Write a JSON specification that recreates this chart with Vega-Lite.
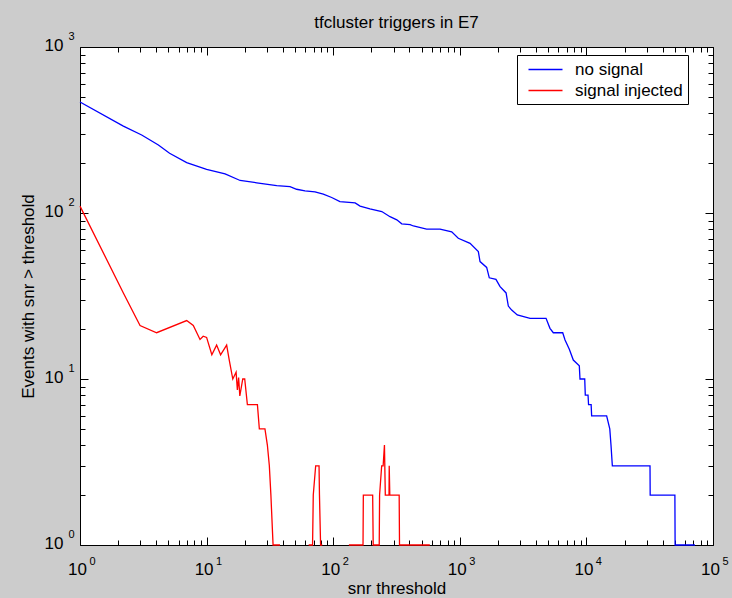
{
  "$schema": "https://vega.github.io/schema/vega-lite/v6.json",
  "width": 633,
  "height": 498,
  "autosize": {"type": "none"},
  "padding": {"left": 80, "top": 47, "right": 19, "bottom": 53},
  "background": "#cccccc",
  "title": {"text": "tfcluster triggers in E7", "font": "Liberation Sans", "fontSize": 17, "fontWeight": "normal", "color": "black", "offset": -2, "anchor": "middle"},
  "config": {
    "view": {"stroke": "black", "strokeWidth": 1, "fill": "white"},
    "axis": {"zindex": 1, "domain": false, "grid": false, "tickColor": "black", "tickWidth": 1, "labelColor": "black", "titleColor": "black", "labelFont": "Liberation Sans", "titleFont": "Liberation Sans", "labelFlush": false, "labelOverlap": false, "titleFontWeight": "normal"}
  },
  "data": {"values": [
    {"series": "no signal", "seg": "b", "snr": 1, "events": 466},
    {"series": "no signal", "seg": "b", "snr": 2.2, "events": 334},
    {"series": "no signal", "seg": "b", "snr": 3.07, "events": 295},
    {"series": "no signal", "seg": "b", "snr": 4.16, "events": 257},
    {"series": "no signal", "seg": "b", "snr": 5.1, "events": 229},
    {"series": "no signal", "seg": "b", "snr": 6.96, "events": 201},
    {"series": "no signal", "seg": "b", "snr": 10, "events": 183},
    {"series": "no signal", "seg": "b", "snr": 14, "events": 172},
    {"series": "no signal", "seg": "b", "snr": 18.4, "events": 157},
    {"series": "no signal", "seg": "b", "snr": 24.9, "events": 152},
    {"series": "no signal", "seg": "b", "snr": 35.8, "events": 146},
    {"series": "no signal", "seg": "b", "snr": 45.6, "events": 144},
    {"series": "no signal", "seg": "b", "snr": 51.4, "events": 139},
    {"series": "no signal", "seg": "b", "snr": 59.9, "events": 136},
    {"series": "no signal", "seg": "b", "snr": 71.8, "events": 134},
    {"series": "no signal", "seg": "b", "snr": 83.5, "events": 130},
    {"series": "no signal", "seg": "b", "snr": 97.3, "events": 124},
    {"series": "no signal", "seg": "b", "snr": 113, "events": 117},
    {"series": "no signal", "seg": "b", "snr": 149, "events": 115},
    {"series": "no signal", "seg": "b", "snr": 163, "events": 110},
    {"series": "no signal", "seg": "b", "snr": 195, "events": 106},
    {"series": "no signal", "seg": "b", "snr": 242, "events": 102},
    {"series": "no signal", "seg": "b", "snr": 281, "events": 95},
    {"series": "no signal", "seg": "b", "snr": 318, "events": 91},
    {"series": "no signal", "seg": "b", "snr": 348, "events": 86},
    {"series": "no signal", "seg": "b", "snr": 405, "events": 85},
    {"series": "no signal", "seg": "b", "snr": 430, "events": 83.5},
    {"series": "no signal", "seg": "b", "snr": 547, "events": 80},
    {"series": "no signal", "seg": "b", "snr": 698, "events": 80},
    {"series": "no signal", "seg": "b", "snr": 863, "events": 77},
    {"series": "no signal", "seg": "b", "snr": 973, "events": 70.4},
    {"series": "no signal", "seg": "b", "snr": 1205, "events": 65.6},
    {"series": "no signal", "seg": "b", "snr": 1401, "events": 58.5},
    {"series": "no signal", "seg": "b", "snr": 1445, "events": 51},
    {"series": "no signal", "seg": "b", "snr": 1630, "events": 47},
    {"series": "no signal", "seg": "b", "snr": 1710, "events": 40.7},
    {"series": "no signal", "seg": "b", "snr": 1930, "events": 39.8},
    {"series": "no signal", "seg": "b", "snr": 2080, "events": 36},
    {"series": "no signal", "seg": "b", "snr": 2320, "events": 33},
    {"series": "no signal", "seg": "b", "snr": 2417, "events": 27.5},
    {"series": "no signal", "seg": "b", "snr": 2570, "events": 26},
    {"series": "no signal", "seg": "b", "snr": 2845, "events": 24.3},
    {"series": "no signal", "seg": "b", "snr": 3590, "events": 23.2},
    {"series": "no signal", "seg": "b", "snr": 4800, "events": 23.2},
    {"series": "no signal", "seg": "b", "snr": 5155, "events": 20.2},
    {"series": "no signal", "seg": "b", "snr": 5480, "events": 19},
    {"series": "no signal", "seg": "b", "snr": 6500, "events": 19},
    {"series": "no signal", "seg": "b", "snr": 6780, "events": 17.2},
    {"series": "no signal", "seg": "b", "snr": 7330, "events": 15.1},
    {"series": "no signal", "seg": "b", "snr": 7880, "events": 13},
    {"series": "no signal", "seg": "b", "snr": 8790, "events": 12},
    {"series": "no signal", "seg": "b", "snr": 8900, "events": 10},
    {"series": "no signal", "seg": "b", "snr": 9700, "events": 10},
    {"series": "no signal", "seg": "b", "snr": 9800, "events": 8},
    {"series": "no signal", "seg": "b", "snr": 10300, "events": 8},
    {"series": "no signal", "seg": "b", "snr": 10400, "events": 7},
    {"series": "no signal", "seg": "b", "snr": 10900, "events": 7},
    {"series": "no signal", "seg": "b", "snr": 11000, "events": 6},
    {"series": "no signal", "seg": "b", "snr": 14450, "events": 6},
    {"series": "no signal", "seg": "b", "snr": 15300, "events": 5},
    {"series": "no signal", "seg": "b", "snr": 15640, "events": 4},
    {"series": "no signal", "seg": "b", "snr": 16030, "events": 3},
    {"series": "no signal", "seg": "b", "snr": 31800, "events": 3},
    {"series": "no signal", "seg": "b", "snr": 31900, "events": 2},
    {"series": "no signal", "seg": "b", "snr": 50000, "events": 2},
    {"series": "no signal", "seg": "b", "snr": 50200, "events": 1},
    {"series": "no signal", "seg": "b", "snr": 72000, "events": 1},
    {"series": "signal injected", "seg": "r1", "snr": 1, "events": 110},
    {"series": "signal injected", "seg": "r1", "snr": 2.2, "events": 33},
    {"series": "signal injected", "seg": "r1", "snr": 2.98, "events": 21},
    {"series": "signal injected", "seg": "r1", "snr": 4.03, "events": 19},
    {"series": "signal injected", "seg": "r1", "snr": 6.96, "events": 22.5},
    {"series": "signal injected", "seg": "r1", "snr": 7.85, "events": 21},
    {"series": "signal injected", "seg": "r1", "snr": 8.87, "events": 17.3},
    {"series": "signal injected", "seg": "r1", "snr": 9.4, "events": 18.1},
    {"series": "signal injected", "seg": "r1", "snr": 10, "events": 17.8},
    {"series": "signal injected", "seg": "r1", "snr": 11, "events": 14},
    {"series": "signal injected", "seg": "r1", "snr": 12, "events": 16},
    {"series": "signal injected", "seg": "r1", "snr": 12.9, "events": 14},
    {"series": "signal injected", "seg": "r1", "snr": 14.4, "events": 16},
    {"series": "signal injected", "seg": "r1", "snr": 15.1, "events": 13},
    {"series": "signal injected", "seg": "r1", "snr": 16.1, "events": 10},
    {"series": "signal injected", "seg": "r1", "snr": 17.1, "events": 11},
    {"series": "signal injected", "seg": "r1", "snr": 17.5, "events": 8.6},
    {"series": "signal injected", "seg": "r1", "snr": 17.9, "events": 10.2},
    {"series": "signal injected", "seg": "r1", "snr": 18.3, "events": 7.9},
    {"series": "signal injected", "seg": "r1", "snr": 19.3, "events": 10},
    {"series": "signal injected", "seg": "r1", "snr": 20, "events": 10},
    {"series": "signal injected", "seg": "r1", "snr": 21, "events": 7},
    {"series": "signal injected", "seg": "r1", "snr": 25.2, "events": 7},
    {"series": "signal injected", "seg": "r1", "snr": 26.1, "events": 5},
    {"series": "signal injected", "seg": "r1", "snr": 28.9, "events": 5},
    {"series": "signal injected", "seg": "r1", "snr": 30.2, "events": 4},
    {"series": "signal injected", "seg": "r1", "snr": 31.3, "events": 3},
    {"series": "signal injected", "seg": "r1", "snr": 32.2, "events": 2},
    {"series": "signal injected", "seg": "r1", "snr": 33.5, "events": 1},
    {"series": "signal injected", "seg": "r1", "snr": 38, "events": 1},
    {"series": "signal injected", "seg": "r2", "snr": 64, "events": 1},
    {"series": "signal injected", "seg": "r2", "snr": 68.7, "events": 1},
    {"series": "signal injected", "seg": "r2", "snr": 69.6, "events": 2},
    {"series": "signal injected", "seg": "r2", "snr": 72.7, "events": 3},
    {"series": "signal injected", "seg": "r2", "snr": 77.3, "events": 3},
    {"series": "signal injected", "seg": "r2", "snr": 77.9, "events": 2},
    {"series": "signal injected", "seg": "r2", "snr": 79.5, "events": 1},
    {"series": "signal injected", "seg": "r2", "snr": 82, "events": 1},
    {"series": "signal injected", "seg": "r3", "snr": 133, "events": 1},
    {"series": "signal injected", "seg": "r3", "snr": 172, "events": 1},
    {"series": "signal injected", "seg": "r3", "snr": 173, "events": 2},
    {"series": "signal injected", "seg": "r3", "snr": 205, "events": 2},
    {"series": "signal injected", "seg": "r3", "snr": 207, "events": 1},
    {"series": "signal injected", "seg": "r3", "snr": 231, "events": 1},
    {"series": "signal injected", "seg": "r3", "snr": 232.5, "events": 2},
    {"series": "signal injected", "seg": "r3", "snr": 241.5, "events": 3},
    {"series": "signal injected", "seg": "r3", "snr": 248, "events": 3},
    {"series": "signal injected", "seg": "r3", "snr": 254, "events": 4},
    {"series": "signal injected", "seg": "r3", "snr": 258, "events": 2},
    {"series": "signal injected", "seg": "r3", "snr": 276, "events": 2},
    {"series": "signal injected", "seg": "r3", "snr": 277, "events": 3},
    {"series": "signal injected", "seg": "r3", "snr": 280, "events": 2},
    {"series": "signal injected", "seg": "r3", "snr": 332, "events": 2},
    {"series": "signal injected", "seg": "r3", "snr": 334, "events": 1},
    {"series": "signal injected", "seg": "r3", "snr": 580, "events": 1}
  ]},
  "resolve": {"axis": {"x": "independent", "y": "independent"}},
  "layer": [
    {
      "mark": {"type": "line", "strokeWidth": 1.3, "interpolate": "linear"},
      "encoding": {
        "x": {"field": "snr", "type": "quantitative", "scale": {"type": "log", "domain": [1, 100000], "nice": false},
              "axis": {"orient": "bottom", "values": [1, 10, 100, 1000, 10000, 100000], "ticks": false, "labelExpr": "'10'", "labelFontSize": 17, "labelPadding": 16, "labelOffset": -3, "title": "snr threshold", "titleFontSize": 17, "titlePadding": 3}},
        "y": {"field": "events", "type": "quantitative", "scale": {"type": "log", "domain": [1, 1000], "nice": false},
              "axis": {"orient": "left", "values": [1, 10, 100, 1000], "ticks": false, "labelExpr": "'10'", "labelFontSize": 17, "labelPadding": 17, "labelOffset": -2, "title": "Events with snr > threshold", "titleFontSize": 17, "titlePadding": 7}},
        "color": {"field": "series", "type": "nominal",
                  "scale": {"domain": ["no signal", "signal injected"], "range": ["#0000ff", "#ff0000"]},
                  "legend": {"orient": "none", "legendX": 437, "legendY": 8, "title": null, "symbolType": "M-2,0H2", "symbolSize": 289, "symbolStrokeWidth": 1.3, "symbolOffset": 14, "labelFont": "Liberation Sans", "labelFontSize": 17, "labelColor": "black", "labelOffset": 20, "padding": 5, "rowPadding": 3, "strokeColor": "black", "fillColor": "white", "labelExpr": "datum.label + '\u00a0\u00a0'"}},
        "detail": {"field": "seg", "type": "nominal"}
      }
    },
    {
      "mark": {"type": "point", "opacity": 0},
      "encoding": {
        "x": {"field": "snr", "type": "quantitative", "scale": {"type": "log", "domain": [1, 100000], "nice": false},
              "axis": {"orient": "bottom", "values": [1, 10, 100, 1000, 10000, 100000], "ticks": false, "labelExpr": "'' + round(log(datum.value) / LN10)", "labelFontSize": 11, "labelPadding": 10, "labelOffset": 12, "title": null}},
        "y": {"field": "events", "type": "quantitative", "scale": {"type": "log", "domain": [1, 1000], "nice": false},
              "axis": {"orient": "left", "values": [1, 10, 100, 1000], "ticks": false, "labelExpr": "'' + round(log(datum.value) / LN10)", "labelFontSize": 11, "labelPadding": 6, "labelOffset": -11, "title": null}}
      }
    },
    {
      "mark": {"type": "point", "opacity": 0},
      "encoding": {
        "x": {"field": "snr", "type": "quantitative", "scale": {"type": "log", "domain": [1, 100000], "nice": false},
              "axis": {"orient": "top", "offset": -498, "values": [1, 10, 100, 1000, 10000, 100000], "tickSize": 8, "labels": false, "title": null}},
        "y": {"field": "events", "type": "quantitative", "scale": {"type": "log", "domain": [1, 1000], "nice": false},
              "axis": {"orient": "right", "offset": -633, "values": [1, 10, 100, 1000], "tickSize": 8, "labels": false, "title": null}}
      }
    },
    {
      "mark": {"type": "point", "opacity": 0},
      "encoding": {
        "x": {"field": "snr", "type": "quantitative", "scale": {"type": "log", "domain": [1, 100000], "nice": false},
              "axis": {"orient": "top", "offset": -498, "values": [2,3,4,5,6,7,8,9,20,30,40,50,60,70,80,90,200,300,400,500,600,700,800,900,2000,3000,4000,5000,6000,7000,8000,9000,20000,30000,40000,50000,60000,70000,80000,90000], "tickSize": 5, "labels": false, "title": null}},
        "y": {"field": "events", "type": "quantitative", "scale": {"type": "log", "domain": [1, 1000], "nice": false},
              "axis": {"orient": "right", "offset": -633, "values": [2,3,4,5,6,7,8,9,20,30,40,50,60,70,80,90,200,300,400,500,600,700,800,900], "tickSize": 5, "labels": false, "title": null}}
      }
    },
    {
      "mark": {"type": "point", "opacity": 0},
      "encoding": {
        "x": {"field": "snr", "type": "quantitative", "scale": {"type": "log", "domain": [1, 100000], "nice": false},
              "axis": {"orient": "bottom", "offset": -498, "values": [1, 10, 100, 1000, 10000, 100000], "tickSize": 8, "labels": false, "title": null}},
        "y": {"field": "events", "type": "quantitative", "scale": {"type": "log", "domain": [1, 1000], "nice": false},
              "axis": {"orient": "left", "offset": -633, "values": [1, 10, 100, 1000], "tickSize": 8, "labels": false, "title": null}}
      }
    },
    {
      "mark": {"type": "point", "opacity": 0},
      "encoding": {
        "x": {"field": "snr", "type": "quantitative", "scale": {"type": "log", "domain": [1, 100000], "nice": false},
              "axis": {"orient": "bottom", "offset": -498, "values": [2,3,4,5,6,7,8,9,20,30,40,50,60,70,80,90,200,300,400,500,600,700,800,900,2000,3000,4000,5000,6000,7000,8000,9000,20000,30000,40000,50000,60000,70000,80000,90000], "tickSize": 5, "labels": false, "title": null}},
        "y": {"field": "events", "type": "quantitative", "scale": {"type": "log", "domain": [1, 1000], "nice": false},
              "axis": {"orient": "left", "offset": -633, "values": [2,3,4,5,6,7,8,9,20,30,40,50,60,70,80,90,200,300,400,500,600,700,800,900], "tickSize": 5, "labels": false, "title": null}}
      }
    }
  ]
}
